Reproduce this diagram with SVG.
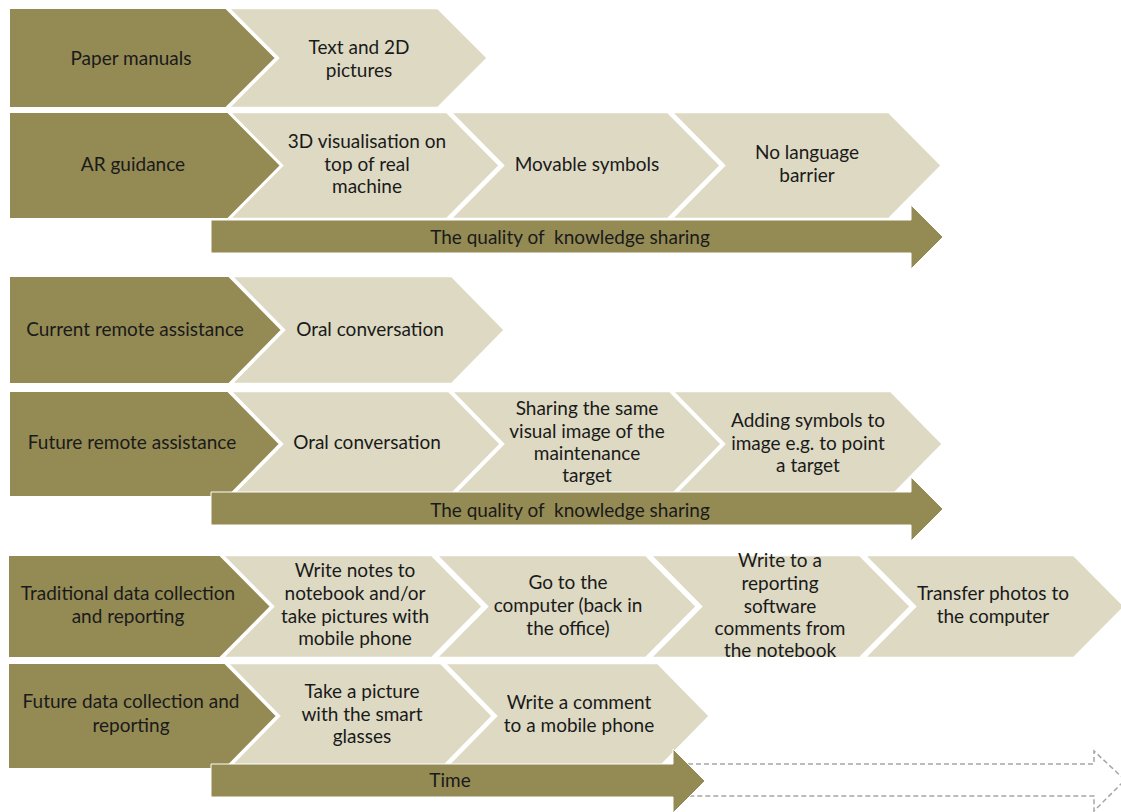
<svg xmlns="http://www.w3.org/2000/svg" width="1121" height="812" viewBox="0 0 1121 812">
  <style>
    .dark { fill: #948A54; stroke: #ffffff; stroke-width: 2; }
    .light { fill: #DDD9C3; stroke: #ffffff; stroke-width: 2.5; }
    .bar { fill: #948A54; stroke: #ffffff; stroke-width: 1; }
    .ghost { fill: none; stroke: #A6A6A6; stroke-width: 1.5; stroke-dasharray: 5 3; }
    text { font-family: Lato, "Liberation Sans", sans-serif; font-size: 19px; fill: #1a1a1a; text-anchor: middle; }
  </style>
  <rect width="1121" height="812" fill="#ffffff"/>

  <!-- Row: paper manuals -->
  <g id="paper-manuals">
    <polygon class="dark" points="9,8 226,8 276,58 226,108 9,108"/>
    <text x="131" y="65">Paper manuals</text>
  </g>
  <g id="text-2d-pictures">
    <polygon class="light" points="228,8 438,8 488,58 438,108 228,108 278,58"/>
    <text x="359" y="54">Text and 2D</text>
    <text x="359" y="77">pictures</text>
  </g>

  <!-- Row: AR guidance -->
  <g id="ar-guidance">
    <polygon class="dark" points="9,112 228,112 281,165.5 228,219 9,219"/>
    <text x="133" y="171">AR guidance</text>
  </g>
  <g id="ar-3d-visualisation">
    <polygon class="light" points="229,112 447,112 500,165.5 447,219 229,219 282,165.5"/>
    <text x="367" y="148">3D visualisation on</text>
    <text x="367" y="171">top of real</text>
    <text x="367" y="193">machine</text>
  </g>
  <g id="ar-movable-symbols">
    <polygon class="light" points="450,112 668,112 721,165.5 668,219 450,219 503,165.5"/>
    <text x="587" y="171">Movable symbols</text>
  </g>
  <g id="ar-no-language-barrier">
    <polygon class="light" points="671,112 889,112 942,165.5 889,219 671,219 724,165.5"/>
    <text x="807" y="159">No language</text>
    <text x="807" y="182">barrier</text>
  </g>

  <!-- Row: current remote assistance -->
  <g id="current-remote">
    <polygon class="dark" points="9,276 229,276 282,330 229,384 9,384"/>
    <text x="135" y="336">Current remote assistance</text>
  </g>
  <g id="current-oral">
    <polygon class="light" points="231,276 452,276 505,330 452,384 231,384 284,330"/>
    <text x="370" y="336">Oral conversation</text>
  </g>

  <!-- Row: future remote assistance -->
  <g id="future-remote">
    <polygon class="dark" points="9,391 228,391 280,444 228,497 9,497"/>
    <text x="132" y="449">Future remote assistance</text>
  </g>
  <g id="future-oral">
    <polygon class="light" points="230,391 449,391 501,444 449,497 230,497 282,444"/>
    <text x="367" y="449">Oral conversation</text>
  </g>
  <g id="future-shared-image">
    <polygon class="light" points="451,391 670,391 722,444 670,497 451,497 503,444"/>
    <text x="587" y="415">Sharing the same</text>
    <text x="587" y="438">visual image of the</text>
    <text x="587" y="460">maintenance</text>
    <text x="587" y="482">target</text>
  </g>
  <g id="future-adding-symbols">
    <polygon class="light" points="672,391 891,391 943,444 891,497 672,497 724,444"/>
    <text x="808" y="427">Adding symbols to</text>
    <text x="808" y="450">image e.g. to point</text>
    <text x="808" y="472">a target</text>
  </g>

  <!-- Row: traditional data collection -->
  <g id="traditional-data">
    <polygon class="dark" points="8,555 220,555 271,606.5 220,658 8,658"/>
    <text x="128" y="600">Traditional data collection</text>
    <text x="128" y="623">and reporting</text>
  </g>
  <g id="traditional-notes">
    <polygon class="light" points="222,555 432,555 483,606.5 432,658 222,658 273,606.5"/>
    <text x="355" y="577">Write notes to</text>
    <text x="355" y="600">notebook and/or</text>
    <text x="355" y="623">take pictures with</text>
    <text x="355" y="645">mobile phone</text>
  </g>
  <g id="traditional-computer">
    <polygon class="light" points="436,555 646,555 697,606.5 646,658 436,658 487,606.5"/>
    <text x="568" y="589">Go to the</text>
    <text x="568" y="612">computer (back in</text>
    <text x="568" y="635">the office)</text>
  </g>
  <g id="traditional-reporting-software">
    <polygon class="light" points="650,555 860,555 911,606.5 860,658 650,658 701,606.5"/>
    <text x="780" y="567">Write to a</text>
    <text x="780" y="590">reporting</text>
    <text x="780" y="613">software</text>
    <text x="780" y="635">comments from</text>
    <text x="780" y="657">the notebook</text>
  </g>
  <g id="traditional-transfer-photos">
    <polygon class="light" points="864,555 1074,555 1125,606.5 1074,658 864,658 915,606.5"/>
    <text x="993" y="600">Transfer photos to</text>
    <text x="993" y="623">the computer</text>
  </g>

  <!-- Row: future data collection -->
  <g id="future-data">
    <polygon class="dark" points="8,663 225,663 277,716 225,769 8,769"/>
    <text x="131" y="708">Future data collection and</text>
    <text x="131" y="732">reporting</text>
  </g>
  <g id="future-smart-glasses">
    <polygon class="light" points="227,663 441,663 493,716 441,769 227,769 279,716"/>
    <text x="362" y="698">Take a picture</text>
    <text x="362" y="721">with the smart</text>
    <text x="362" y="743">glasses</text>
  </g>
  <g id="future-mobile-comment">
    <polygon class="light" points="444,663 658,663 710,716 658,769 444,769 496,716"/>
    <text x="579" y="709">Write a comment</text>
    <text x="579" y="732">to a mobile phone</text>
  </g>

  <!-- Progress arrows -->
  <g id="connectors">
    <path class="bar" d="M211,220 H911 V205 L943,237 L911,269 V253 H211 Z"/>
    <text x="570" y="244">The quality of&#160; knowledge sharing</text>
    <path class="bar" d="M211,492 H911 V477 L943,509 L911,541 V525 H211 Z"/>
    <text x="570" y="517">The quality of&#160; knowledge sharing</text>
    <path class="ghost" d="M680,764 H1094 V751 L1125,780 L1094,811 V796 H680 Z"/>
    <path class="bar" d="M211,764 H673 V749 L705,781 L673,813 V797 H211 Z"/>
    <text x="450" y="787">Time</text>
  </g>
</svg>
